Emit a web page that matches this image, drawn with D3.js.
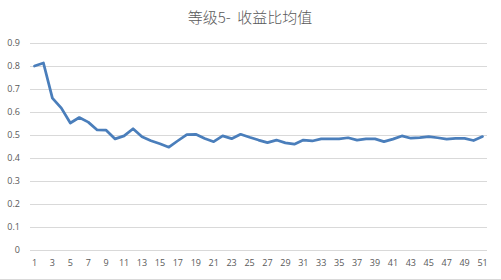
<!DOCTYPE html>
<html>
<head>
<meta charset="utf-8">
<script src="https://cdn.jsdelivr.net/npm/d3@7"></script>
<style>
  body { margin: 0; background: #fff; }
  svg { display: block; }
  .tick text { fill: #595959; font-family: "Open Sans", "Liberation Sans", sans-serif; font-size: 9px; }
</style>
</head>
<body>
<div id="chart"></div>
<script>
// chart data
const titleText = '等级5-  收益比均值';
const periods = d3.range(1, 52);
const ratioValues = [
  0.800, 0.813, 0.660, 0.617, 0.552, 0.576, 0.556, 0.522, 0.521, 0.483,
  0.496, 0.527, 0.492, 0.475, 0.462, 0.447, 0.475, 0.502, 0.503, 0.485,
  0.471, 0.496, 0.484, 0.503, 0.490, 0.478, 0.467, 0.478, 0.466, 0.460,
  0.478, 0.474, 0.483, 0.483, 0.483, 0.488, 0.478, 0.483, 0.483, 0.471,
  0.482, 0.496, 0.486, 0.489, 0.493, 0.488, 0.482, 0.485, 0.485, 0.476,
  0.493
];
const yTicks = [0, 0.1, 0.2, 0.3, 0.4, 0.5, 0.6, 0.7, 0.8, 0.9];

const width = 501, height = 280;
const margin = { top: 43, right: 14, bottom: 30, left: 30 };

const svg = d3.select('#chart')
  .append('svg')
  .attr('width', width)
  .attr('height', height);

const x = d3.scaleBand()
  .domain(periods)
  .range([margin.left, width - margin.right])
  .padding(0);

const y = d3.scaleLinear()
  .domain([0, 0.9])
  .range([height - margin.bottom, margin.top]);

// title (keep the double space)
svg.append('text')
  .attr('x', 250)
  .attr('y', 23)
  .attr('text-anchor', 'middle')
  .attr('fill', '#595959')
  .style('font-family', '"Noto Sans CJK SC", sans-serif')
  .style('font-size', '15px')
  .style('font-weight', 300)
  .style('white-space', 'pre')
  .text(titleText);

// y gridlines + labels
const yAxis = svg.append('g')
  .attr('transform', `translate(${margin.left},0)`)
  .call(d3.axisLeft(y)
    .tickValues(yTicks)
    .tickSize(-(width - margin.left - margin.right))
    .tickPadding(10)
    .tickFormat(d => d === 0 ? '0' : d3.format('.1f')(d)));
yAxis.select('.domain').remove();
yAxis.selectAll('.tick line').attr('stroke', '#d9d9d9').attr('stroke-width', 1);

// x labels
const xAxis = svg.append('g')
  .attr('transform', `translate(0,${height - margin.bottom})`)
  .call(d3.axisBottom(x)
    .tickValues(periods.filter(d => d % 2 === 1))
    .tickSize(0)
    .tickPadding(10));
xAxis.select('.domain').remove();

// line
const line = d3.line()
  .x((d, i) => x(periods[i]) + x.bandwidth() / 2)
  .y(d => y(d));

svg.append('path')
  .datum(ratioValues)
  .attr('fill', 'none')
  .attr('stroke', '#4a7ebb')
  .attr('stroke-width', 2.75)
  .attr('stroke-linejoin', 'round')
  .attr('stroke-linecap', 'round')
  .attr('d', line);

// chart frame bottom edge
svg.append('line')
  .attr('x1', 0)
  .attr('x2', width)
  .attr('y1', 279.5)
  .attr('y2', 279.5)
  .attr('stroke', '#d9d9d9');
</script>
</body>
</html>
